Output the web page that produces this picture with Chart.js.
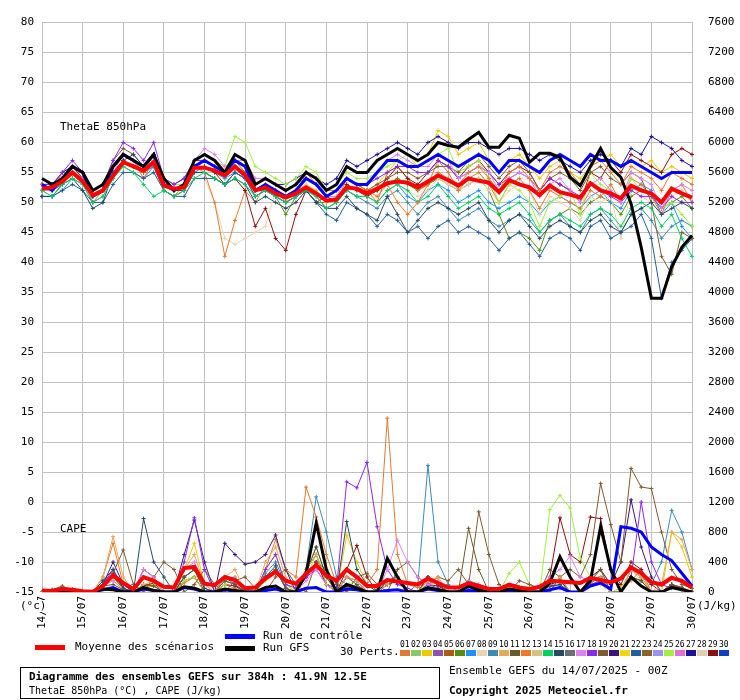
<!DOCTYPE html>
<html><head><meta charset="utf-8">
<script src="https://cdn.jsdelivr.net/npm/chart.js@4"></script>
<style>
body{margin:0;background:#fff;font-family:"DejaVu Sans Mono",monospace;}
#wrap{position:relative;width:740px;height:700px;}
.t{position:absolute;font-size:11px;color:#000;white-space:nowrap;line-height:12px;}
.b{font-weight:bold;}
.ln{position:absolute;height:5px;}
</style></head>
<body><div id="wrap">
<canvas id="c" width="740" height="700"></canvas>
<div class="t" style="left:60px;top:121px">ThetaE 850hPa</div>
<div class="t" style="left:60px;top:523px">CAPE</div>
<div class="t" style="left:20px;top:600px;background:#fff">(°c)</div>
<div class="t" style="left:697px;top:600px">(J/kg)</div>
<div class="ln" style="left:35px;top:645px;width:30px;background:#ff0000"></div>
<div class="t" style="left:75px;top:641px">Moyenne des scénarios</div>
<div class="ln" style="left:225px;top:634px;width:30px;background:#0000ff"></div>
<div class="t" style="left:263px;top:630px">Run de contrôle</div>
<div class="ln" style="left:225px;top:646px;width:30px;background:#000"></div>
<div class="t" style="left:263px;top:642px">Run GFS</div>
<div class="t" style="left:340px;top:646px">30 Perts.</div>
<div id="perts" style="position:absolute;left:400px;top:639px;"></div>
<div style="position:absolute;left:20px;top:667px;width:418px;height:30px;border:1px solid #000;"></div>
<div class="t b" style="left:29px;top:671px">Diagramme des ensembles GEFS sur 384h : 41.9N 12.5E</div>
<div class="t" style="left:29px;top:685px;font-size:10px">ThetaE 850hPa (°C) , CAPE (J/kg)</div>
<div class="t" style="left:449px;top:665px">Ensemble GEFS du 14/07/2025 - 00Z</div>
<div class="t b" style="left:449px;top:685px">Copyright 2025 Meteociel.fr</div>
</div>
<script>
const dayLabels=["14/07","15/07","16/07","17/07","18/07","19/07","20/07","21/07","22/07","23/07","24/07","25/07","26/07","27/07","28/07","29/07","30/07"];
const pertColors=["#e07b30","#8cc86a","#f0c800","#9050b0","#b05a10","#5a8c10","#1e90ff","#e8d4b0","#3c8cb4","#e8a85a","#6a5a28","#f07828","#d8c080","#00d060","#284a64","#6a7078","#e080f0","#8c28f0","#805a30","#3c1478","#f0d800","#2060a0","#8c6428","#a090f0","#a0f040","#e070d8","#2010a0","#e0d0b0","#8c1010","#1040c0"];

const thetaMean=[52.3,52.5,53.5,55,53.5,51.2,52,54.5,56.7,56,55.3,56.7,52.8,52.3,52.5,55.8,55.8,55.3,54.5,56,54.5,52,52.5,51.5,50.8,51.5,52.5,51.5,50.3,50.5,52.5,52.3,51.5,52.3,53.2,53.5,53.3,52.5,53.5,54.5,53.7,52.8,54,53.6,53.3,51.7,53.7,53,52.5,51.2,52.8,51.7,51.3,50.8,53.2,52,51.5,50.7,52.8,52,51.5,50,52.3,51.5,50.8];
const thetaGFS=[54,53,54,56,55,52,53,56,58,57,56,58,54,52,53,57,58,57,55,58,57,53,54,53,52,53,55,54,52,53,56,55,55,57,58,59,58,57,58,60,59.5,59.2,60.5,61.7,59.2,59.2,61.2,60.7,56.7,58.2,58.2,57.5,54.2,52.8,56,59,55.8,54.2,49.8,42.5,34,34,39.2,42.5,44.5];
const thetaCtrl=[53,52,54,56,55,51,52,56,58,57,56,58,53,52,53,56,57,56,55,57,56,52,53,52,51,52,54,53,51,52,54,53,53,55,57,57,56,56,57,58,57,56,57,58,57,55,57,57,56,55,57,58,57,56,58,57,57,56,57,56,55,54,55,55,55];
const thetaPerts={
"01":[53,52,55,56,54,50,52,56,58,57,54,57,52,51,53,56,55,50,41,47,52,50,53,52,50,51,55,53,51,50,54,53,52,50,55,56,54,52,53,57,55,52,54,55,53,50,53,54,52,49,52,51,50,49,52,51,53,50,54,53,51,48,52,53,50],
"08":[52,51,53,54,53,50,51,54,56,55,54,55,52,51,52,55,54,50,44,43,44,45,46,52,50,51,53,51,49,50,52,51,51,50,52,53,52,51,52,54,53,52,53,54,52,50,52,53,52,48,51,50,49,47,51,50,51,44,52,51,50,48,51,52,50],
"29":[52,53,54,56,54,51,52,55,57,56,55,57,53,52,53,56,56,55,53,54,52,46,49,44,42,48,52,50,51,50,53,52,51,52,54,56,54,53,55,57,56,54,56,57,55,53,55,56,55,52,54,53,52,50,55,54,57,55,58,57,56,55,58,59,58],
"22":[51,51,52,53,52,50,50,53,55,55,54,55,52,51,51,54,54,54,53,55,54,51,52,51,50,51,52,50,48,47,50,49,48,46,48,47,45,46,44,46,47,45,46,45,44,42,44,45,43,41,44,45,44,42,46,47,44,45,46,48,44,34,40,42,44],
"15":[51,51,53,54,52,49,50,55,57,58,56,58,53,52,52,55,55,54,53,54,53,50,51,50,49,50,52,50,49,49,51,49,48,47,51,48,45,47,49,50,49,48,49,50,47,45,47,48,46,44,46,47,46,45,47,48,46,45,48,49,50,48,49,50,49],
"18":[53,53,55,57,55,52,53,57,60,59,57,60,54,53,54,57,57,56,55,57,56,53,54,53,52,53,54,53,51,52,54,53,53,54,55,56,56,55,55,57,56,54,55,56,55,53,54,55,54,52,54,53,52,51,53,52,51,50,52,51,51,49,51,50,50],
"25":[52,52,54,56,55,52,53,56,58,57,56,58,54,53,53,57,58,57,56,61,60,56,55,54,53,54,56,55,52,53,55,54,54,55,56,57,58,56,57,58,59,55,56,57,54,50,53,52,50,46,50,51,52,48,55,53,52,50,54,52,51,49,50,48,46],
"07":[52,52,53,55,54,51,52,54,57,56,55,56,53,52,53,55,56,55,54,55,54,52,52,51,50,51,52,51,49,50,52,51,51,50,52,53,51,50,52,53,52,50,51,52,50,49,50,51,50,48,50,51,50,49,51,52,50,49,52,53,52,48,50,46,44],
"27":[53,53,55,56,55,52,53,56,58,57,56,58,54,53,54,57,57,56,55,57,56,53,54,53,53,54,55,54,53,54,57,56,57,58,59,60,59,58,60,61,60,59,60,60,59,58,59,59,58,57,58,57,56,55,57,58,57,56,59,58,61,60,59,57,56],
"17":[52,52,54,55,54,51,52,55,58,57,56,57,53,52,53,57,59,58,56,57,57,54,54,53,52,53,55,54,51,51,54,53,53,55,57,58,57,56,56,58,57,54,55,56,55,52,54,55,54,51,53,54,52,50,53,54,52,50,55,54,53,49,52,53,52],
"03":[52,52,54,55,54,51,52,55,57,56,55,57,53,52,53,56,56,55,54,56,55,52,53,52,51,52,53,52,50,51,53,52,52,53,55,57,56,57,58,62,61,58,59,60,57,55,57,58,56,54,56,57,55,54,56,57,58,56,57,56,57,55,56,55,54],
"14":[52,51,53,54,53,50,51,54,56,55,53,51,52,51,52,54,55,54,53,54,53,51,52,51,50,51,52,51,49,50,52,51,51,50,52,53,52,50,51,53,51,49,50,51,49,48,49,50,48,45,47,48,47,46,48,49,48,46,49,50,49,46,48,44,41],
"19":[52,52,54,56,55,52,53,57,59,58,56,58,53,52,53,56,57,56,55,57,55,52,53,52,51,52,54,53,51,52,54,53,52,53,54,55,55,54,55,56,56,55,57,58,56,54,56,57,55,52,54,55,54,52,55,56,54,53,55,54,50,41,38,45,44],
"09":[51,51,52,54,53,50,51,54,56,55,54,56,52,51,52,55,55,54,53,55,54,51,52,51,50,51,52,51,49,50,52,51,50,49,51,52,50,48,50,51,49,47,48,49,47,46,47,48,47,45,47,48,46,45,48,49,47,45,48,49,47,44,46,47,46],
"06":[52,52,53,55,54,51,52,55,57,56,55,56,52,51,52,55,55,54,53,55,54,52,52,51,48,51,52,50,50,51,52,51,51,52,53,54,53,52,53,54,53,52,53,54,52,48,44,45,44,42,47,48,49,48,50,51,50,48,51,52,51,49,50,51,49],
"12":[53,52,54,56,55,52,53,56,58,57,55,57,53,52,53,56,57,56,55,57,56,53,54,53,52,53,55,54,52,52,54,53,52,51,53,50,48,50,53,55,54,53,55,56,54,52,55,56,54,52,55,56,55,53,56,57,55,53,56,55,54,52,55,54,53]
};
const capeMean=[20,15,40,30,10,5,80,225,120,40,200,150,70,60,320,335,110,90,200,160,50,60,180,270,150,110,240,360,220,150,300,200,80,80,160,140,120,100,180,120,60,60,120,80,40,40,100,60,40,70,150,140,130,120,190,160,130,180,330,250,130,100,190,150,60];
const capeGFS=[0,0,10,0,0,0,40,30,0,0,60,20,0,0,70,50,0,0,40,20,0,0,60,80,0,0,250,920,300,0,100,50,0,0,450,200,0,0,60,30,0,0,80,20,0,0,40,20,0,0,120,470,200,0,150,870,300,0,200,80,0,0,60,30,0];
const capeCtrl=[0,0,10,0,0,0,30,60,0,0,40,20,0,0,60,40,0,0,30,10,0,0,20,40,0,0,50,60,0,0,40,30,0,0,20,30,0,0,40,20,0,0,20,10,0,0,10,10,0,0,30,60,0,0,80,120,40,870,850,800,600,500,420,250,80];
const capePerts={
"01":[0,0,40,30,0,0,200,650,100,0,50,80,0,0,120,200,0,0,100,50,0,0,300,700,300,200,1400,1000,500,100,60,40,100,300,2320,500,100,60,150,100,0,0,80,60,0,0,40,30,0,0,100,150,0,0,120,200,0,0,150,300,0,0,100,60,0],
"18":[0,0,20,10,0,0,100,300,50,0,200,150,0,0,400,990,300,0,200,100,0,0,300,500,100,50,200,300,100,50,1470,1390,1730,870,300,100,50,0,100,50,0,0,60,30,0,0,30,20,0,0,80,50,0,0,100,150,0,0,200,1200,400,100,50,30,0],
"09":[0,0,60,40,0,0,150,250,50,0,100,80,0,0,200,300,50,0,150,100,0,0,250,400,100,50,300,1270,800,200,100,80,0,0,150,200,0,100,1690,400,100,0,150,100,0,0,80,60,0,0,100,80,0,0,120,200,0,0,300,200,100,400,1090,800,300],
"19":[0,30,80,20,0,0,100,250,560,100,0,200,400,300,0,100,300,100,0,150,200,50,0,200,300,100,0,400,300,100,0,200,250,100,0,300,400,200,100,200,150,300,100,1070,500,100,0,150,100,50,0,200,300,200,500,1450,900,400,1650,1400,1380,800,300,100,50],
"25":[0,0,20,10,0,0,80,150,50,0,60,100,0,0,150,200,0,0,100,200,0,0,150,300,100,0,200,500,200,0,100,150,0,0,100,200,0,0,100,150,0,0,80,60,0,0,250,400,100,0,1100,1290,1120,450,200,100,0,50,300,150,0,0,100,60,0],
"29":[0,0,30,20,0,0,100,200,50,0,80,120,0,0,150,200,0,0,100,80,0,0,200,300,50,0,200,400,100,0,300,620,200,0,100,150,0,0,100,80,0,0,60,40,0,0,30,20,0,0,200,990,500,400,1000,980,300,100,400,300,100,0,80,50,0],
"15":[0,30,60,20,0,0,150,300,50,0,980,400,200,0,200,300,50,0,200,150,0,0,200,350,50,0,250,600,200,0,940,300,100,0,150,200,0,0,200,100,0,0,100,50,0,0,60,40,0,0,80,100,0,0,150,200,0,0,200,150,0,0,100,50,0],
"20":[0,0,30,10,0,0,100,400,100,0,300,200,0,0,500,960,400,0,650,500,370,400,500,760,300,0,200,400,100,0,200,150,0,0,100,150,0,0,200,100,0,0,100,50,0,0,50,30,0,0,100,150,0,0,200,300,100,400,1230,600,200,0,100,50,0],
"10":[0,0,50,30,0,0,200,740,200,0,100,150,0,0,300,500,100,0,200,300,0,0,400,600,200,0,300,500,100,0,200,150,0,0,100,200,0,0,150,200,0,0,100,80,0,0,60,40,0,0,100,200,0,0,150,200,0,0,300,200,0,100,800,700,300],
"03":[0,0,20,10,0,0,100,200,50,0,100,100,0,0,300,650,100,0,150,200,0,0,300,500,100,0,300,600,200,0,760,400,100,0,100,200,0,0,150,100,0,0,100,60,0,0,50,30,0,0,100,150,0,0,150,300,0,0,300,250,0,0,800,600,200],
"17":[0,0,20,10,0,0,80,150,30,0,300,200,0,0,300,400,100,0,150,200,0,0,200,300,50,0,150,300,100,0,200,150,0,0,300,690,400,200,100,150,0,0,150,100,0,0,50,30,0,0,200,300,480,200,150,200,0,0,300,200,0,0,100,60,0],
"11":[0,0,20,10,0,0,80,100,30,0,100,80,0,0,200,300,0,0,150,100,0,0,200,300,50,0,300,500,100,0,200,100,0,0,100,150,0,0,200,100,0,0,850,300,0,0,50,30,0,0,300,200,0,0,150,300,0,0,200,150,0,0,100,60,0]
};

const pd=document.getElementById('perts');
pertColors.forEach((c,i)=>{
  const n=document.createElement('div');n.className='t';n.style.cssText=`left:${i*11}px;top:0;font-size:8px;`;n.textContent=String(i+1).padStart(2,'0');pd.appendChild(n);
  const b=document.createElement('div');b.style.cssText=`position:absolute;left:${i*11}px;top:11px;width:10px;height:6px;background:${c}`;pd.appendChild(b);
});

const labels=[];
for(let d=0;d<16;d++){for(let h=0;h<4;h++)labels.push(h===0?dayLabels[d]:'');}
labels.push(dayLabels[16]);

const ds=[];
const pertDs=(obj,axis)=>Object.keys(obj).forEach(k=>ds.push({data:obj[k],yAxisID:axis,borderColor:pertColors[+k-1],backgroundColor:pertColors[+k-1],borderWidth:1,pointStyle:'cross',pointRadius:2,pointBorderWidth:1,order:10}));
pertDs(thetaPerts,'y');pertDs(capePerts,'y2');
ds.push({data:thetaCtrl,yAxisID:'y',borderColor:'#0000ff',borderWidth:3,pointRadius:0,order:3});
ds.push({data:capeCtrl,yAxisID:'y2',borderColor:'#0000ff',borderWidth:3,pointRadius:0,order:3});
ds.push({data:thetaGFS,yAxisID:'y',borderColor:'#000',borderWidth:3,pointRadius:0,order:2});
ds.push({data:capeGFS,yAxisID:'y2',borderColor:'#000',borderWidth:3,pointRadius:0,order:2});
ds.push({data:thetaMean,yAxisID:'y',borderColor:'#ff0000',borderWidth:4,pointRadius:0,order:1});
ds.push({data:capeMean,yAxisID:'y2',borderColor:'#ff0000',borderWidth:4,pointRadius:0,order:1});

const font={family:'"DejaVu Sans Mono", monospace',size:11};
new Chart(document.getElementById('c'),{
 type:'line',
 data:{labels,datasets:ds},
 options:{responsive:false,animation:false,devicePixelRatio:1,
  layout:{padding:{top:22,bottom:50,left:0,right:0}},
  plugins:{legend:{display:false},tooltip:{enabled:false}},
  scales:{
   x:{offset:false,grid:{color:c=>labels[c.index]?'#c0c0c0':'rgba(0,0,0,0)',drawTicks:false},border:{color:'#c0c0c0'},
      ticks:{autoSkip:false,maxRotation:90,minRotation:90,color:'#000',font,padding:4,callback:(v,i)=>labels[i]},
      afterFit:s=>{s.height=58;}},
   y:{min:-15,max:80,position:'left',ticks:{stepSize:5,color:'#000',font,padding:8,callback:v=>String(v)},grid:{color:'#c0c0c0',drawTicks:false},border:{color:'#c0c0c0'},afterFit:s=>{s.width=42;}},
   y2:{min:0,max:7600,position:'right',ticks:{stepSize:400,color:'#000',font,padding:16,callback:v=>String(v)},grid:{display:false,drawTicks:false},border:{color:'#c0c0c0'},afterFit:s=>{s.width=48;}}
  }}
});
</script></body></html>
